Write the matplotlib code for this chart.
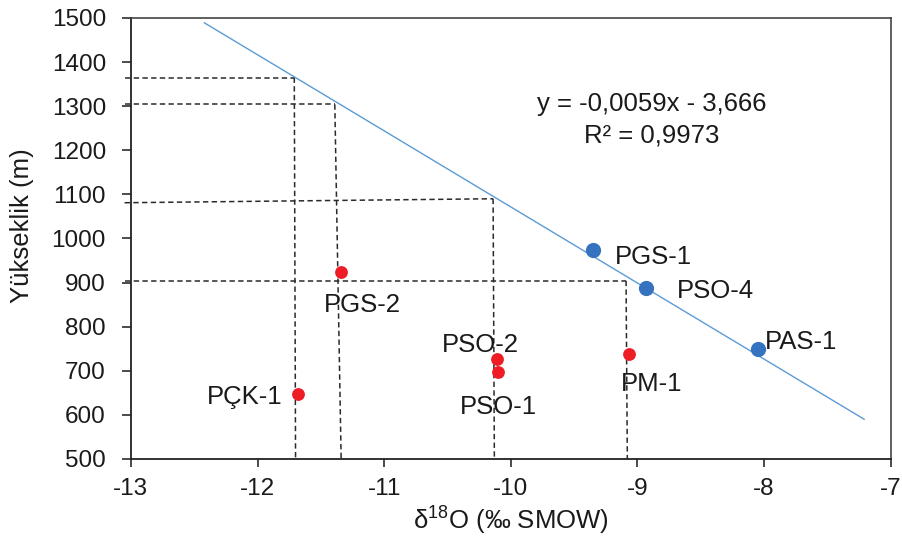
import matplotlib
matplotlib.use("Agg")
import matplotlib.pyplot as plt

plt.rcParams['font.family'] = ['Liberation Sans', 'DejaVu Sans']
plt.rcParams['mathtext.fontset'] = 'custom'
plt.rcParams['mathtext.rm'] = 'Liberation Sans'
plt.rcParams['mathtext.it'] = 'Liberation Sans:italic'
plt.rcParams['mathtext.bf'] = 'Liberation Sans:bold'

# Data
blue_names = ["PGS-1", "PSO-4", "PAS-1"]
blue_x = [-9.35, -8.93, -8.05]
blue_y = [973, 888, 749]

red_names = ["PGS-2", "PÇK-1", "PSO-2", "PSO-1", "PM-1"]
red_x = [-11.34, -11.68, -10.11, -10.10, -9.07]
red_y = [923, 647, 726, 696, 737]

trend_x = [-12.42, -7.21]
trend_y = [1489, 590]

guide_corner_x = [-11.71, -11.39, -10.14, -9.09]
guide_corner_y = [1365, 1304, 1090, 904]
guide_left_y = [1365, 1304, 1081, 904]
guide_bottom_x = [-11.70, -11.34, -10.13, -9.08]

x_ticks = [-13, -12, -11, -10, -9, -8, -7]
y_ticks = [500, 600, 700, 800, 900, 1000, 1100, 1200, 1300, 1400, 1500]

eq_line1 = "y = -0,0059x - 3,666"
eq_line2 = "R² = 0,9973"

# label offsets in pixels (dx, dy, ha)
blue_offsets = [(22, -4, 'left'), (31, -1, 'left'), (7, 10, 'left')]
red_offsets = [(21, -30, 'center'), (-16, 0, 'right'), (-17, 17, 'center'),
               (0, -32, 'center'), (-8, -27, 'left')]

fig = plt.figure(figsize=(9.03, 5.45), dpi=100)
ax = fig.add_axes([0.145, 0.158, 0.8414, 0.809])

ax.set_xlim(-13, -7)
ax.set_ylim(500, 1500)

guide_kw = dict(color='#2a2a2a', lw=1.1, ls=(0, (3.5, 2.2)), clip_on=False, zorder=1)
for cx, cy, ly, bx in zip(guide_corner_x, guide_corner_y, guide_left_y, guide_bottom_x):
    ax.plot([-13.05, cx], [ly, cy], **guide_kw)
    ax.plot([cx, bx], [cy, 500], **guide_kw)

ax.plot(trend_x, trend_y, color='#5B9BD5', lw=1.0, zorder=2)

ax.scatter(blue_x, blue_y, s=120, color='#3572C0', zorder=3, linewidths=0)
ax.scatter(red_x, red_y, s=85, color='#EE1C25', zorder=3, linewidths=0)

fs = 18.5
for n, x, y, (dx, dy, ha) in zip(blue_names, blue_x, blue_y, blue_offsets):
    ax.annotate(n, (x, y), xytext=(dx, dy), textcoords='offset pixels',
                ha=ha, va='center_baseline', fontsize=fs, color='#1a1a1a')
for n, x, y, (dx, dy, ha) in zip(red_names, red_x, red_y, red_offsets):
    ax.annotate(n, (x, y), xytext=(dx, dy), textcoords='offset pixels',
                ha=ha, va='center_baseline', fontsize=fs, color='#1a1a1a')

ax.text(652 / 903, 1 - 101.5 / 545, eq_line1, transform=fig.transFigure,
        ha='center', va='center_baseline', fontsize=18.5, color='#1a1a1a')
ax.text(652 / 903, 1 - 132.5 / 545, eq_line2, transform=fig.transFigure,
        ha='center', va='center_baseline', fontsize=18.5, color='#1a1a1a')

ax.set_xticks(x_ticks)
ax.set_yticks(y_ticks)
ax.set_xticklabels([str(t) for t in x_ticks])
ax.set_yticklabels([str(t) for t in y_ticks])
ax.tick_params(axis='both', direction='out', width=1.1,
               labelsize=17.5, colors='#1a1a1a')
ax.tick_params(axis='y', pad=11.5, length=6.5)
ax.tick_params(axis='x', pad=7.5, length=6)

for side in ['left', 'bottom']:
    ax.spines[side].set_color('#222222')
    ax.spines[side].set_linewidth(1.3)
for side in ['top', 'right']:
    ax.spines[side].set_color('#444444')
    ax.spines[side].set_linewidth(1.2)

ax.set_xlabel(r"δ$^{\mathrm{18}}$O (‰ SMOW)", fontsize=fs, color='#1a1a1a')
ax.set_ylabel("Yükseklik (m)", fontsize=fs, color='#1a1a1a')
ax.xaxis.set_label_coords(0.5, -0.105)
ax.yaxis.set_label_coords(-0.127, 0.53)

fig.savefig("out.png", dpi=100)
